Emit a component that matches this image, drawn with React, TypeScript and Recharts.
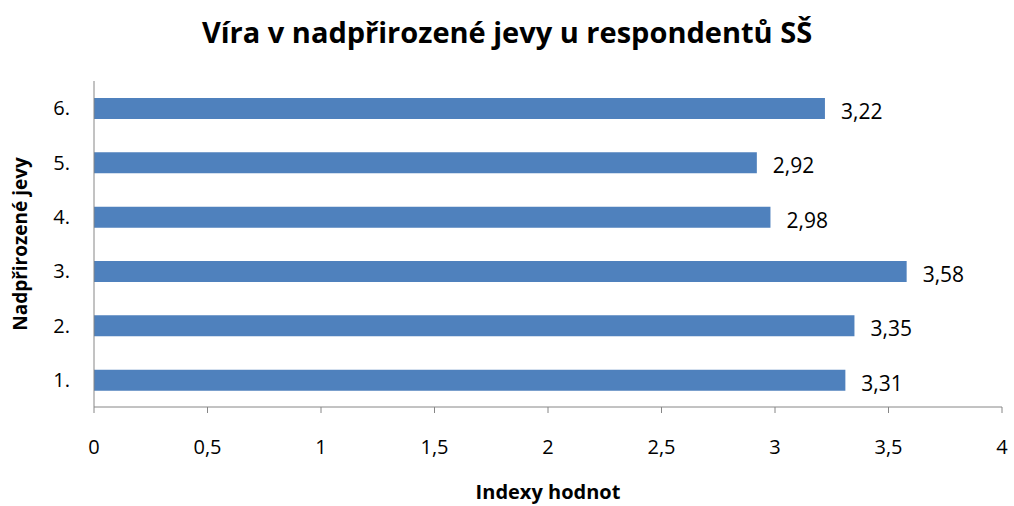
import { BarChart, Bar, XAxis, YAxis, LabelList } from 'recharts';

// Víra v nadpřirozené jevy – indexy hodnot
const categories = ['1.', '2.', '3.', '4.', '5.', '6.'];
const values = [3.31, 3.35, 3.58, 2.98, 2.92, 3.22];
const xTicks = [0, 0.5, 1, 1.5, 2, 2.5, 3, 3.5, 4];

const data = categories.map((name, i) => ({ name, value: values[i] }));

const fmt = (v: number | string) => String(v).replace('.', ',');

const AXIS = '#868686';
const FONT = '"Open Sans", sans-serif';

const App = () => {
  return (
    <div style={{ position: 'absolute', left: 0, top: 0, width: 1014, height: 506, fontFamily: FONT, background: '#fff' }}>
      <div
        style={{
          position: 'absolute',
          top: 12,
          left: 0,
          width: 1014,
          textAlign: 'center',
          fontSize: 29,
          fontWeight: 700,
          color: '#000',
          lineHeight: '40px',
        }}
      >
        Víra v nadpřirozené jevy u respondentů SŠ
      </div>
      <BarChart
        width={1014}
        height={506}
        data={data}
        layout="vertical"
        margin={{ top: 81, right: 12, left: 0, bottom: 0 }}
      >
        <XAxis
          type="number"
          domain={[0, 4]}
          ticks={xTicks}
          interval={0}
          tickFormatter={fmt}
          height={99}
          tickSize={6}
          tickMargin={27}
          axisLine={{ stroke: AXIS }}
          tickLine={{ stroke: AXIS }}
          tick={{ fill: '#000', fontSize: 20 }}
          label={{ value: 'Indexy hodnot', position: 'insideBottom', offset: 7, fill: '#000', fontSize: 20, fontWeight: 700 }}
        />
        <YAxis
          type="category"
          dataKey="name"
          reversed
          width={94}
          tickLine={false}
          tickMargin={18}
          axisLine={{ stroke: AXIS }}
          tick={{ fill: '#000', fontSize: 20 }}
          label={{
            value: 'Nadpřirozené jevy',
            angle: -90,
            position: 'insideLeft',
            offset: 20,
            fill: '#000',
            fontSize: 19,
            fontWeight: 700,
            style: { textAnchor: 'middle' },
          }}
        />
        <Bar dataKey="value" fill="#4F81BD" barSize={21} isAnimationActive={false}>
          <LabelList dataKey="value" position="right" offset={16} formatter={fmt} fill="#000" fontSize={21} dy={3} />
        </Bar>
      </BarChart>
    </div>
  );
};

export default App;
